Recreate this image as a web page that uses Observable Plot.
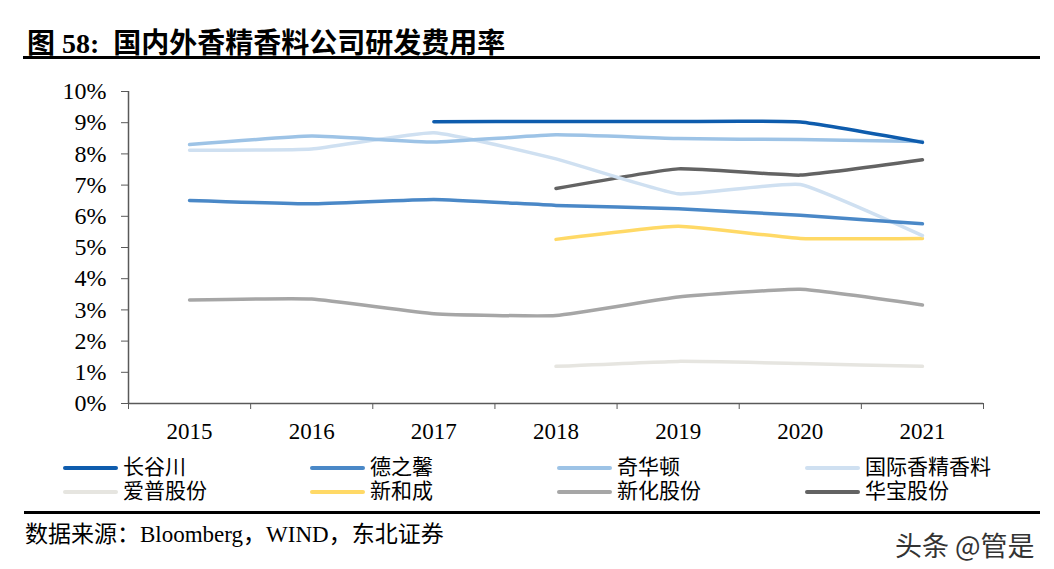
<!DOCTYPE html>
<html>
<head>
<meta charset="utf-8">
<script src="https://cdn.jsdelivr.net/npm/d3@7"></script>
<script src="https://cdn.jsdelivr.net/npm/@observablehq/plot@0.6"></script>
<style>
  html, body { margin: 0; padding: 0; background: #fff; }
  body { width: 1054px; height: 569px; position: relative; overflow: hidden; font-family: "Liberation Serif", "Noto Sans CJK SC", serif; }
  #title { position: absolute; left: 27px; top: 21px; font-size: 28px; font-weight: bold; color: #000; white-space: nowrap; font-family: "Liberation Serif", "Noto Sans CJK SC", serif; }
  #title .num { margin-right: 14px; }
  #rule1 { position: absolute; left: 23px; top: 56px; width: 1017px; height: 3px; background: #000; }
  #chart { position: absolute; left: 0; top: 70px; }
  #legend { position: absolute; left: 0; top: 0; }
  .item { position: absolute; display: flex; align-items: center; font-size: 21px; line-height: 21px; font-family: "Liberation Serif", "Noto Sans CJK SC", serif; color: #000; height: 21px; white-space: nowrap; }
  .sw { display: inline-block; width: 55px; height: 4px; border-radius: 2px; margin-right: 5px; }
  #rule2 { position: absolute; left: 24px; top: 511px; width: 1016px; height: 3px; background: #000; }
  #source { position: absolute; left: 25px; top: 515px; font-size: 23px; color: #000; white-space: nowrap; font-family: "Liberation Serif", "Noto Sans CJK SC", serif; }
  #wm { position: absolute; left: 895px; top: 525px; font-size: 27px; color: #333; white-space: nowrap; font-family: "Noto Sans CJK SC", sans-serif; }
</style>
</head>
<body>
<div id="title">图 <span class="num">58:</span>国内外香精香料公司研发费用率</div>
<div id="rule1"></div>
<div id="chart"></div>
<div id="legend"></div>
<div id="rule2"></div>
<div id="source">数据来源：Bloomberg，WIND，东北证券</div>
<div id="wm">头条 @管是</div>
<script>
const years = [2015, 2016, 2017, 2018, 2019, 2020, 2021];
const seriesNames = ["长谷川", "德之馨", "奇华顿", "国际香精香料", "爱普股份", "新和成", "新化股份", "华宝股份"];
const seriesColors = ["#0E5CAD", "#4A88C7", "#9DC3E6", "#CFE0F1", "#E6E5E0", "#FFD966", "#A6A6A6", "#636363"];
// values in %
const changgu   = [null, null, 9.03, 9.04, 9.04, 9.02, 8.37];
const dezhixin  = [6.51, 6.40, 6.54, 6.35, 6.24, 6.03, 5.76];
const qihuadun  = [8.30, 8.57, 8.38, 8.61, 8.49, 8.46, 8.40];
const iff       = [8.12, 8.16, 8.68, 7.84, 6.72, 7.02, 5.38];
const aipu      = [null, null, null, 1.19, 1.35, 1.28, 1.19];
const xinhecheng= [null, null, null, 5.26, 5.68, 5.29, 5.29];
const xinhua    = [3.32, 3.35, 2.88, 2.82, 3.41, 3.66, 3.16];
const huabao    = [null, null, null, 6.89, 7.52, 7.32, 7.81];
const yTicks = [0, 1, 2, 3, 4, 5, 6, 7, 8, 9, 10];

const allSeries = [changgu, dezhixin, qihuadun, iff, aipu, xinhecheng, xinhua, huabao];
const rows = [];
for (let s = allSeries.length - 1; s >= 0; s--) {
  allSeries[s].forEach((v, i) => {
    if (v != null) rows.push({name: seriesNames[s], year: years[i], value: v});
  });
}

const font = "Liberation Serif";
const boundaries = years.map(y => y - 0.5).concat([years[years.length - 1] + 0.5]);

const plot = Plot.plot({
  width: 1054,
  height: 380,
  marginTop: 21,
  marginBottom: 47,
  marginLeft: 128,
  marginRight: 71,
  style: {fontFamily: font, fontSize: "22px", color: "#000", background: "transparent"},
  x: {domain: [years[0] - 0.5, years[years.length - 1] + 0.5]},
  y: {domain: [0, 10]},
  color: {domain: seriesNames, range: seriesColors},
  marks: [
    Plot.axisY({ticks: yTicks, tickFormat: d => d + "%", tickSize: 7, tickPadding: 15, stroke: "#595959", fill: "#000", fontSize: 24, label: null}),
    Plot.axisX({ticks: boundaries, tickFormat: () => "", tickSize: 6, stroke: "#595959", label: null}),
    Plot.axisX({ticks: years, tickFormat: d => String(d), tickSize: 0, tickPadding: 19, fill: "#000", fontSize: 23, label: null}),
    Plot.ruleX([years[0] - 0.5], {stroke: "#595959", strokeWidth: 1.5}),
    Plot.ruleY([0], {stroke: "#595959", strokeWidth: 1.5}),
    Plot.line(rows, {x: "year", y: "value", z: "name", stroke: "name", strokeWidth: 3.5, curve: "cardinal", tension: 0.6, strokeLinecap: "round"})
  ]
});
document.getElementById("chart").appendChild(plot);

// legend
const legend = document.getElementById("legend");
const colX = [63, 310, 557, 805];
const rowY = [457, 481];
seriesNames.forEach((n, i) => {
  const d = document.createElement("div");
  d.className = "item";
  d.style.left = colX[i % 4] + "px";
  d.style.top = rowY[Math.floor(i / 4)] + "px";
  const sw = document.createElement("span");
  sw.className = "sw";
  sw.style.background = seriesColors[i];
  d.appendChild(sw);
  d.appendChild(document.createTextNode(n));
  legend.appendChild(d);
});
</script>
</body>
</html>
